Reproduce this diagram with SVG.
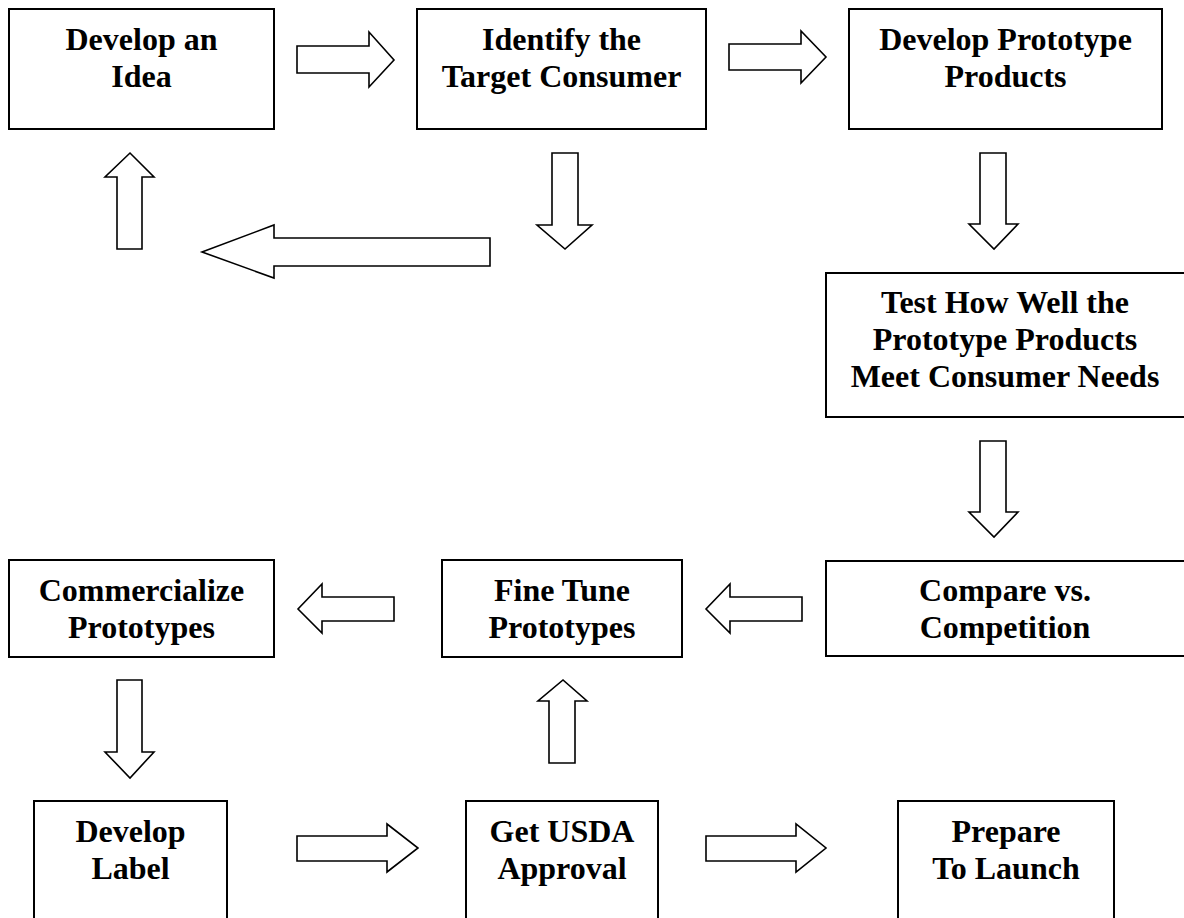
<svg xmlns="http://www.w3.org/2000/svg" width="1184" height="918" viewBox="0 0 1184 918">
<style>
.box{fill:#fff;stroke:#000;stroke-width:2}
.arr{fill:#fff;stroke:#000;stroke-width:1.6;stroke-linejoin:miter}
.t{font-family:"Liberation Serif","Times New Roman",serif;font-weight:bold;font-size:32px;fill:#000;text-anchor:middle}
</style>
<rect width="1184" height="918" fill="#fff"/>
<g id="connectors">
<polygon class="arr" points="297,46 369,46 369,32 394,60 369,87 369,73 297,73"/>
<polygon class="arr" points="729,44 801,44 801,31 826,57 801,83 801,70 729,70"/>
<polygon class="arr" points="117,249 117,177 105,177 130,153 154,177 142,177 142,249"/>
<polygon class="arr" points="490,238 274,238 274,225 202,252 274,278 274,266 490,266"/>
<polygon class="arr" points="552,153 578,153 578,225 592,225 565,249 537,225 552,225"/>
<polygon class="arr" points="980,153 1006,153 1006,224 1018,224 994,249 969,224 980,224"/>
<polygon class="arr" points="980,441 1006,441 1006,512 1018,512 994,537 969,512 980,512"/>
<polygon class="arr" points="802,597 730,597 730,584 706,609 730,633 730,621 802,621"/>
<polygon class="arr" points="394,597 322,597 322,584 298,609 322,633 322,621 394,621"/>
<polygon class="arr" points="117,680 142,680 142,752 154,752 130,778 105,752 117,752"/>
<polygon class="arr" points="549,763 549,701 538,701 563,680 587,701 575,701 575,763"/>
<polygon class="arr" points="297,836 387,836 387,824 418,848 387,872 387,861 297,861"/>
<polygon class="arr" points="706,836 796,836 796,824 826,848 796,872 796,861 706,861"/>
</g>
<g id="n1"><rect class="box" x="9" y="9" width="265" height="120"/><text class="t" x="141.5" y="50">Develop an</text><text class="t" x="141.5" y="87">Idea</text></g>
<g id="n2"><rect class="box" x="417" y="9" width="289" height="120"/><text class="t" x="561.5" y="50">Identify the</text><text class="t" x="561.5" y="87">Target Consumer</text></g>
<g id="n3"><rect class="box" x="849" y="9" width="313" height="120"/><text class="t" x="1005.5" y="50">Develop Prototype</text><text class="t" x="1005.5" y="87">Products</text></g>
<g id="n4"><rect class="box" x="826" y="273" width="362" height="144"/><text class="t" x="1005" y="313">Test How Well the</text><text class="t" x="1005" y="350">Prototype Products</text><text class="t" x="1005" y="387">Meet Consumer Needs</text></g>
<g id="n5"><rect class="box" x="826" y="561" width="362" height="95"/><text class="t" x="1005" y="601">Compare vs.</text><text class="t" x="1005" y="638">Competition</text></g>
<g id="n6"><rect class="box" x="442" y="560" width="240" height="97"/><text class="t" x="562" y="601">Fine Tune</text><text class="t" x="562" y="638">Prototypes</text></g>
<g id="n7"><rect class="box" x="9" y="560" width="265" height="97"/><text class="t" x="141.5" y="601">Commercialize</text><text class="t" x="141.5" y="638">Prototypes</text></g>
<g id="n8"><rect class="box" x="34" y="801" width="193" height="144"/><text class="t" x="130.5" y="842">Develop</text><text class="t" x="130.5" y="879">Label</text></g>
<g id="n9"><rect class="box" x="466" y="801" width="192" height="144"/><text class="t" x="562" y="842">Get USDA</text><text class="t" x="562" y="879">Approval</text></g>
<g id="n10"><rect class="box" x="898" y="801" width="216" height="144"/><text class="t" x="1006" y="842">Prepare</text><text class="t" x="1006" y="879">To Launch</text></g>
</svg>
